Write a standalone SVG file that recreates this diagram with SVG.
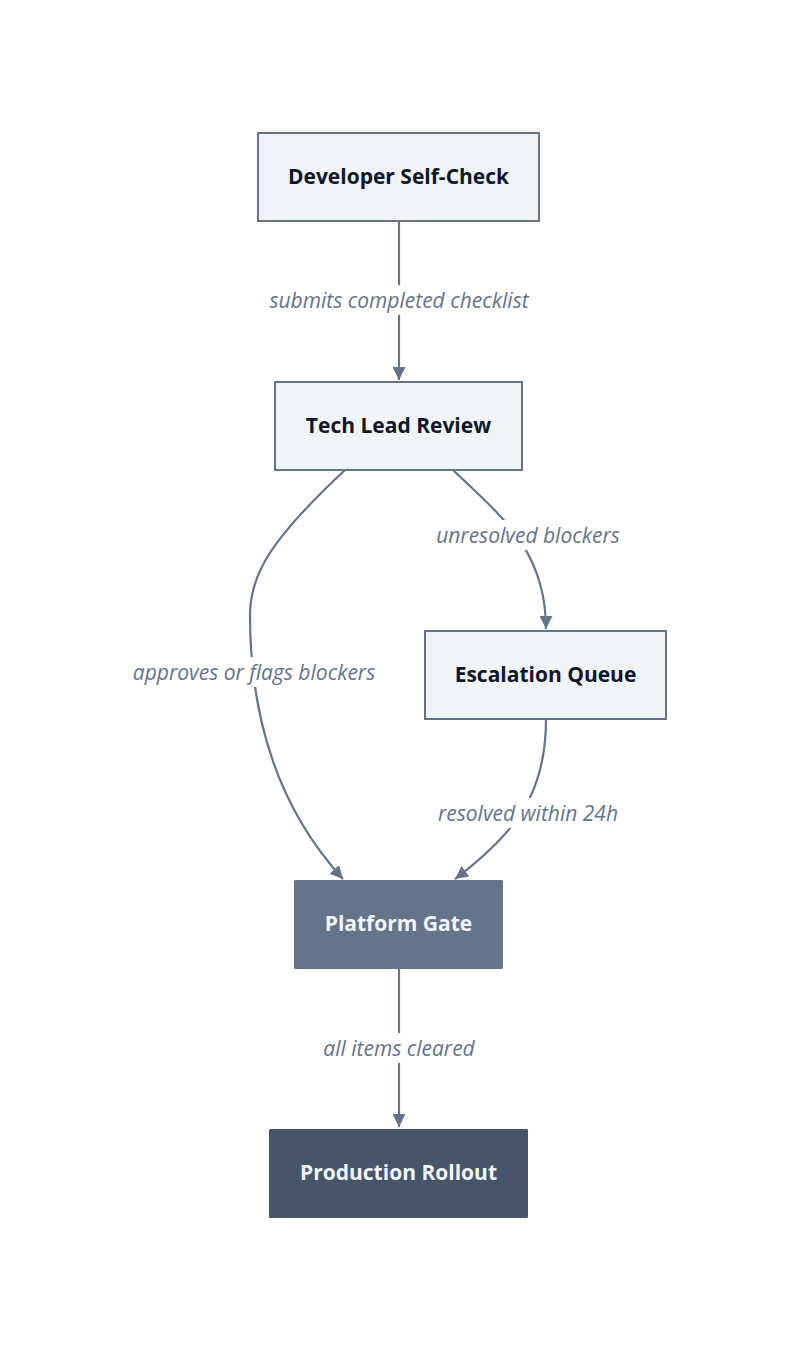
<svg xmlns="http://www.w3.org/2000/svg" width="800" height="1351" viewBox="0 0 800 1351">
<style>
.light{fill:#f0f3f8;stroke:#64748b;stroke-width:2}
.nl{font-family:"Open Sans",sans-serif;font-weight:700;font-size:21px;fill:#0f172a;text-anchor:middle;dominant-baseline:central}
.nw{font-family:"Open Sans",sans-serif;font-weight:700;font-size:21px;fill:#f1f5f9;text-anchor:middle;dominant-baseline:central}
.edge{fill:none;stroke:#64748b;stroke-width:2.2}
.el{font-family:"Open Sans",sans-serif;font-style:italic;font-size:21px;fill:#64748b;text-anchor:middle;dominant-baseline:central}
.lb{fill:#ffffff}
</style>
<defs>
<marker id="arr" viewBox="0 0 13 13" refX="13" refY="6.5" markerWidth="13" markerHeight="13" markerUnits="userSpaceOnUse" orient="auto">
<path d="M0,0 L13,6.5 L0,13 z" fill="#64748b"/>
</marker>
</defs>
<rect width="800" height="1351" fill="#ffffff"/>
<g id="connectors">
<path class="edge" d="M399,221 L399,380" marker-end="url(#arr)"/>
<path class="edge" d="M345,470 C 270,540 250,575 250,615 C 250,720 280,810 343,879" marker-end="url(#arr)"/>
<path class="edge" d="M453,470 C 500,515 546,550 546,629" marker-end="url(#arr)"/>
<path class="edge" d="M546,719 C 546,790 520,830 455,879" marker-end="url(#arr)"/>
<path class="edge" d="M399,969 L399,1127" marker-end="url(#arr)"/>
<rect class="lb" x="265" y="285" width="269" height="30"/>
<text class="el" x="399" y="300">submits completed checklist</text>
<rect class="lb" x="129" y="657" width="250" height="30"/>
<text class="el" x="254" y="672">approves or flags blockers</text>
<rect class="lb" x="432" y="520" width="193" height="30"/>
<text class="el" x="528" y="535">unresolved blockers</text>
<rect class="lb" x="433" y="798" width="190" height="30"/>
<text class="el" x="528" y="813">resolved within 24h</text>
<rect class="lb" x="319" y="1033" width="161" height="30"/>
<text class="el" x="399" y="1048">all items cleared</text>
</g>
<g id="developer-self-check">
<rect class="light" x="258" y="133" width="281" height="88"/>
<text class="nl" x="398.5" y="176">Developer Self-Check</text>
</g>
<g id="tech-lead-review">
<rect class="light" x="275" y="382" width="247" height="88"/>
<text class="nl" x="398.5" y="425">Tech Lead Review</text>
</g>
<g id="escalation-queue">
<rect class="light" x="425" y="631" width="241" height="88"/>
<text class="nl" x="545.5" y="674">Escalation Queue</text>
</g>
<g id="platform-gate">
<rect x="294" y="880" width="209" height="89" rx="1.5" fill="#64748b"/>
<text class="nw" x="398.5" y="923">Platform Gate</text>
</g>
<g id="production-rollout">
<rect x="269" y="1129" width="259" height="89" rx="1.5" fill="#475569"/>
<text class="nw" x="398.5" y="1172">Production Rollout</text>
</g>
</svg>
